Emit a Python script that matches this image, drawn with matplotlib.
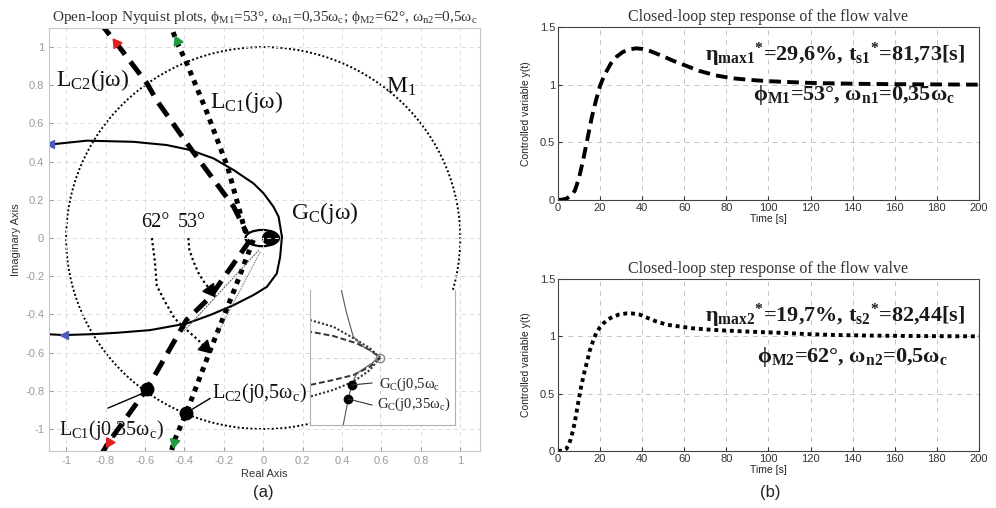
import matplotlib.pyplot as plt
import numpy as np
from matplotlib.patches import Circle, Ellipse

SERIF = ['Liberation Serif', 'DejaVu Serif']
plt.rcParams['font.family'] = ['Liberation Sans', 'DejaVu Sans']
plt.rcParams['mathtext.fontset'] = 'custom'
plt.rcParams['mathtext.rm'] = 'Liberation Serif'
plt.rcParams['mathtext.it'] = 'Liberation Serif:italic'
plt.rcParams['mathtext.bf'] = 'Liberation Serif:bold'

# ---------------- data ----------------
# Nyquist: G_C(jw) solid curve, upper and lower branch
gc_up_x = [-1.10, -1.081, -0.895, -0.658, -0.489, -0.37, -0.252, -0.15, -0.049, 0.002, 0.052, 0.078, 0.095]
gc_up_y = [0.49, 0.49, 0.51, 0.504, 0.487, 0.461, 0.417, 0.356, 0.286, 0.234, 0.164, 0.112, 0.007]
gc_lo_x = [0.095, 0.086, 0.069, 0.019, -0.049, -0.15, -0.269, -0.387, -0.574, -0.743, -0.86, -1.013, -1.10]
gc_lo_y = [0.007, -0.098, -0.185, -0.255, -0.298, -0.351, -0.403, -0.447, -0.482, -0.496, -0.503, -0.508, -0.503]
gc_arrow_x = [-1.081, -1.013]
gc_arrow_y = [0.49, -0.508]

# L_C2(jw) dashed, L_C1(jw) dotted (upper / lower parts)
lc2_up_x = [-0.83, -0.745, -0.59, -0.54, -0.362, -0.15, -0.083]
lc2_up_y = [1.13, 1.02, 0.81, 0.72, 0.46, 0.164, 0.025]
lc2_lo_x = [-0.066, -0.27, -0.39, -0.59, -0.785, -0.82]
lc2_lo_y = [-0.01, -0.31, -0.43, -0.79, -1.07, -1.13]
lc1_up_x = [-0.475, -0.44, -0.39, -0.29, -0.18, -0.09]
lc1_up_y = [1.13, 1.03, 0.92, 0.67, 0.37, 0.03]
lc1_lo_x = [-0.05, -0.15, -0.27, -0.39, -0.455, -0.468]
lc1_lo_y = [-0.01, -0.28, -0.59, -0.915, -1.07, -1.13]

# coloured direction arrows on L lines
red_arrow_x = [-0.745, -0.785]
red_arrow_y = [1.02, -1.07]
green_arrow_x = [-0.44, -0.455]
green_arrow_y = [1.03, -1.07]

# M1 circle
m1_center = (0.0, 0.0)
m1_radius = 1.0

# phase margin arcs
arc53_x = [-0.38, -0.375, -0.355, -0.33, -0.30, -0.27]
arc53_y = [0.0, -0.06, -0.12, -0.18, -0.23, -0.27]
arc62_x = [-0.565, -0.55, -0.54, -0.50, -0.45, -0.40, -0.34, -0.294]
arc62_y = [0.0, -0.12, -0.25, -0.33, -0.42, -0.47, -0.525, -0.57]

# thin lines from origin
thin1_x = [-0.022, -0.405]
thin1_y = [-0.063, -0.49]
thin2_x = [-0.015, -0.236]
thin2_y = [-0.072, -0.508]

# crossing points with M1 and pointers
dot_x = [-0.59, -0.39]
dot_y = [-0.79, -0.915]
ptr1_x = [-0.787, -0.609]
ptr1_y = [-0.89, -0.812]
ptr2_x = [-0.39, -0.27]
ptr2_y = [-0.915, -0.84]

# zoom window (own coordinates)
in_dot_up_x = [-1.05, -1.0, -0.667, -0.333, -0.143, 0.0]
in_dot_up_y = [0.59, 0.556, 0.456, 0.259, 0.136, 0.0]
in_dash_up_x = [-1.05, -1.0, -0.667, -0.333, -0.143, 0.0]
in_dash_up_y = [0.40, 0.383, 0.319, 0.21, 0.11, 0.0]
in_dash_lo_x = [0.0, -0.143, -0.38, -0.667, -1.0, -1.05]
in_dash_lo_y = [-0.01, -0.136, -0.26, -0.333, -0.407, -0.42]
in_dot_lo_x = [0.0, -0.143, -0.38, -0.667, -1.0, -1.05]
in_dot_lo_y = [0.0, -0.185, -0.358, -0.48, -0.58, -0.60]
in_gc_x = [-0.56, -0.547, -0.476, -0.382, -0.239, -0.06, 0.0, -0.117, -0.333, -0.405, -0.453, -0.525, -0.54]
in_gc_y = [1.05, 0.975, 0.654, 0.308, 0.16, 0.05, 0.02, -0.086, -0.235, -0.407, -0.615, -1.0, -1.05]
in_pts_x = [-0.405, -0.453]
in_pts_y = [-0.407, -0.615]

# closed-loop step responses
t1 = [0, 2, 4, 6, 8, 10, 12, 14, 16, 18, 20, 22, 25, 28, 31, 34, 37, 40, 44, 50, 55, 60, 67, 75, 83,
      92, 100, 120, 140, 160, 180, 200]
y1 = [0, 0.003, 0.012, 0.035, 0.08, 0.19, 0.35, 0.53, 0.71, 0.86, 0.99, 1.08, 1.18, 1.245, 1.285, 1.305,
      1.315, 1.31, 1.29, 1.245, 1.205, 1.17, 1.12, 1.08, 1.055, 1.04, 1.03, 1.015, 1.008, 1.004, 1.002, 1.0]
t2 = [0, 2, 4, 5, 6, 7, 8, 9.5, 11, 12.7, 14, 15, 16.5, 18.2, 20, 21.4, 24, 26, 29, 32.5, 35, 38.8, 42,
      46.7, 52, 57.8, 64, 70.5, 78, 86, 96, 107, 120, 131, 150, 175, 200]
y2 = [0, 0.003, 0.02, 0.05, 0.1, 0.17, 0.25, 0.41, 0.56, 0.70, 0.79, 0.87, 0.95, 1.03, 1.08, 1.11, 1.15,
      1.17, 1.19, 1.20, 1.20, 1.19, 1.165, 1.13, 1.10, 1.086, 1.07, 1.06, 1.052, 1.045, 1.037, 1.03,
      1.018, 1.012, 1.006, 1.002, 1.0]

x_ticks_left = np.round(np.arange(-1, 1.01, 0.2), 1)
y_ticks_left = np.round(np.arange(-1, 1.01, 0.2), 1)
t_ticks = np.arange(0, 201, 20)
y_ticks_right = [0, 0.5, 1, 1.5]


def tick_fmt(v):
    s = '%g' % v
    return '0' if s in ('-0', '0') else s


def heading(x0, y0, x1, y1):
    return np.degrees(np.arctan2(y1 - y0, x1 - x0)) - 90


fig = plt.figure(figsize=(9.96, 5.08), dpi=100)

# ---------------- (a) Nyquist plot ----------------
ax = fig.add_axes([0.0492, 0.1122, 0.4327, 0.8327])
ax.set_xlim(-1.087, 1.10)
ax.set_ylim(-1.115, 1.10)
ax.set_xticks(x_ticks_left)
ax.set_yticks(y_ticks_left)
ax.set_xticklabels([tick_fmt(v) for v in x_ticks_left])
ax.set_yticklabels([tick_fmt(v) for v in y_ticks_left])
ax.tick_params(labelsize=8, colors='#9a9a9a', length=3, direction='in')
for s in ax.spines.values():
    s.set_color('#c8c8c8')
ax.grid(True, color='#dadada', linestyle=(0, (4, 4)), linewidth=0.7)
ax.set_xlabel('Real Axis', fontsize=8, color='#333333', labelpad=2)
ax.set_ylabel('Imaginary Axis', fontsize=8, color='#333333', labelpad=3)
ax.set_title('Open-loop Nyquist plots, ϕ$_{\\mathrm{M1}}$=53°, ω$_{\\mathrm{n1}}$=0,35ω$_{\\mathrm{c}}$; '
             'ϕ$_{\\mathrm{M2}}$=62°, ω$_{\\mathrm{n2}}$=0,5ω$_{\\mathrm{c}}$',
             family=SERIF, fontsize=11, color='#333333', pad=5)

ax.add_patch(Circle(m1_center, m1_radius, fill=False, color='black', lw=1.4, linestyle=(0, (1, 1.2))))

ax.plot(gc_up_x, gc_up_y, color='black', lw=1.5)
ax.plot(gc_lo_x, gc_lo_y, color='black', lw=1.5)
ax.plot(gc_arrow_x, gc_arrow_y, linestyle='none', marker='<', color='#4a5db8', markersize=6)

dash_kw = dict(color='black', lw=3.6, linestyle=(0, (3.2, 1.8)), dash_capstyle='butt')
dot_kw = dict(color='black', lw=3.6, linestyle=(0, (1, 1.1)), dash_capstyle='butt')
ax.plot(lc2_up_x, lc2_up_y, **dash_kw)
ax.plot(lc2_lo_x, lc2_lo_y, **dash_kw)
ax.plot(lc1_up_x, lc1_up_y, **dot_kw)
ax.plot(lc1_lo_x, lc1_lo_y, **dot_kw)

# coloured direction arrows
for xs, ys, col, lx, ly in [(red_arrow_x, red_arrow_y, '#e02020', (lc2_up_x, lc2_lo_x), (lc2_up_y, lc2_lo_y)),
                            (green_arrow_x, green_arrow_y, '#1f9a3e', (lc1_up_x, lc1_lo_x), (lc1_up_y, lc1_lo_y))]:
    for i in range(2):
        xx, yy = lx[i], ly[i]
        rot = heading(xx[-2], yy[-2], xx[-1], yy[-1]) if i else heading(xx[2], yy[2], xx[1], yy[1])
        ax.plot(xs[i], ys[i], linestyle='none', marker=(3, 0, rot), color=col, markersize=8)

# phase margin arcs
ax.plot(arc53_x, arc53_y, color='black', lw=1.6, linestyle=(0, (1, 1.3)))
ax.plot(arc62_x, arc62_y, color='black', lw=1.6, linestyle=(0, (1, 1.3)))
ax.plot(arc53_x[-1], arc53_y[-1], linestyle='none', color='black', markersize=11,
        marker=(3, 0, heading(arc53_x[-2], arc53_y[-2], arc53_x[-1], arc53_y[-1])))
ax.plot(arc62_x[-1], arc62_y[-1], linestyle='none', color='black', markersize=11,
        marker=(3, 0, heading(arc62_x[-2], arc62_y[-2], arc62_x[-1], arc62_y[-1])))

ax.plot(thin1_x, thin1_y, color='#555555', lw=0.7, linestyle=(0, (2, 1)))
ax.plot(thin2_x, thin2_y, color='#555555', lw=0.7, linestyle=(0, (1, 1)))

# "eye" where the curves meet the origin
ax.add_patch(Ellipse((-0.005, 0.0), 0.17, 0.085, fill=False, color='black', lw=1.6))
ax.add_patch(Ellipse((0.035, 0.0), 0.075, 0.07, color='black'))

ax.plot(dot_x, dot_y, 'o', color='black', markersize=9)
ax.plot(ptr1_x, ptr1_y, color='black', lw=1)
ax.plot(ptr2_x, ptr2_y, color='black', lw=1)

lab = dict(family=SERIF, fontsize=17, color='#111111', ha='center', va='center')
ax.text(-0.865, 0.827, 'L$_{\\mathrm{C2}}$(jω)', **lab)
ax.text(-0.084, 0.712, 'L$_{\\mathrm{C1}}$(jω)', **lab)
ax.text(0.703, 0.79, 'M$_{\\mathrm{1}}$', **lab)
ax.text(0.315, 0.131, 'G$_{\\mathrm{C}}$(jω)', **lab)
lab['fontsize'] = 14.5
ax.text(-0.548, 0.079, '62°', **lab)
ax.text(-0.363, 0.079, '53°', **lab)
ax.text(-0.772, -1.005, 'L$_{\\mathrm{C1}}$(j0,35ω$_{\\mathrm{c}}$)', **lab)
ax.text(-0.018, -0.81, 'L$_{\\mathrm{C2}}$(j0,5ω$_{\\mathrm{c}}$)', **lab)

# zoom window
axi = fig.add_axes([0.3112, 0.1634, 0.1456, 0.2657])
axi.set_zorder(5)
axi.set_facecolor('white')
axi.set_xlim(-1.0, 1.07)
axi.set_ylim(-1.0, 1.0)
axi.set_xticks([0])
axi.set_yticks([0])
axi.tick_params(length=0, labelbottom=False, labelleft=False)
axi.grid(True, color='#d0d0d0', linestyle=(0, (4, 4)), linewidth=0.7)
axi.spines['top'].set_visible(False)
for k in ('left', 'bottom', 'right'):
    axi.spines[k].set_color('#b0b0b0')
axi.plot(in_dot_up_x, in_dot_up_y, color='#333333', lw=1.5, linestyle=(0, (1, 1)))
axi.plot(in_dot_lo_x, in_dot_lo_y, color='#333333', lw=1.5, linestyle=(0, (1, 1)))
axi.plot(in_dash_up_x, in_dash_up_y, color='#333333', lw=1.4, linestyle=(0, (3, 1.5)))
axi.plot(in_dash_lo_x, in_dash_lo_y, color='#333333', lw=1.4, linestyle=(0, (3, 1.5)))
axi.plot(in_gc_x, in_gc_y, color='#555555', lw=0.8)
axi.plot([0], [0], 'o', mfc='none', mec='#888888', markersize=6)
axi.plot(in_pts_x, in_pts_y, 'o', color='black', markersize=6)
axi.plot([in_pts_x[0], -0.115], [in_pts_y[0], -0.378], color='#333333', lw=0.8)
axi.plot([in_pts_x[1], -0.115], [in_pts_y[1], -0.704], color='#333333', lw=0.8)
ilab = dict(family=SERIF, fontsize=10.5, color='#222222', ha='left', va='center', clip_on=False)
axi.text(-0.01, -0.40, 'G$_{\\mathrm{C}}$(j0,5ω$_{\\mathrm{c}}$', **ilab)
axi.text(-0.05, -0.69, 'G$_{\\mathrm{C}}$(j0,35ω$_{\\mathrm{c}}$)', **ilab)


# ---------------- (b) step responses ----------------
def step_axes(rect, t, y, style, txt1, txt2, p1, p2):
    a = fig.add_axes(rect)
    a.plot(t, y, color='black', lw=2.8, linestyle=style, dash_capstyle='butt')
    a.set_xlim(0, 200)
    a.set_ylim(0, 1.5)
    a.set_xticks(t_ticks)
    a.set_yticks(y_ticks_right)
    a.set_yticklabels(['0', '0.5', '1', '1.5'])
    a.tick_params(labelsize=8, colors='#333333', length=3, direction='in', pad=2)
    for s in a.spines.values():
        s.set_color('#444444')
        s.set_linewidth(0.8)
    a.grid(True, color='#c4c4c4', linestyle=(0, (5, 5)), linewidth=0.7)
    a.set_xlabel('Time [s]', fontsize=7.5, color='#222222', labelpad=1)
    a.set_ylabel('Controlled variable y(t)', fontsize=7.5, color='#222222', labelpad=6)
    a.set_title('Closed-loop step response of the flow valve', family=SERIF, fontsize=11.5,
                color='#333333', pad=4)
    big = dict(family=SERIF, fontsize=16, fontweight='bold', color='#1a1a1a', ha='right', va='center')
    a.text(p1[0], p1[1], txt1, **big)
    a.text(p2[0], p2[1], txt2, **big)
    return a


step_axes([0.5602, 0.6063, 0.4227, 0.3406], t1, y1, (0, (3, 1.6)),
          'η$_{\\mathbf{max1}}$$^{\\mathbf{*}}$=29,6%, t$_{\\mathbf{s1}}$$^{\\mathbf{*}}$=81,73[s]',
          'ϕ$_{\\mathbf{M1}}$=53°, ω$_{\\mathbf{n1}}$=0,35ω$_{\\mathbf{c}}$',
          (193.5, 1.26), (188.5, 0.91))
step_axes([0.5602, 0.1122, 0.4227, 0.3386], t2, y2, (0, (1, 1)),
          'η$_{\\mathbf{max2}}$$^{\\mathbf{*}}$=19,7%, t$_{\\mathbf{s2}}$$^{\\mathbf{*}}$=82,44[s]',
          'ϕ$_{\\mathbf{M2}}$=62°, ω$_{\\mathbf{n2}}$=0,5ω$_{\\mathbf{c}}$',
          (193.5, 1.18), (185.0, 0.82))

fig.text(0.264, 0.03, '(a)', fontsize=12, ha='center', va='center', color='#222222')
fig.text(0.773, 0.03, '(b)', fontsize=12, ha='center', va='center', color='#222222')

fig.savefig('out.png', dpi=100)
